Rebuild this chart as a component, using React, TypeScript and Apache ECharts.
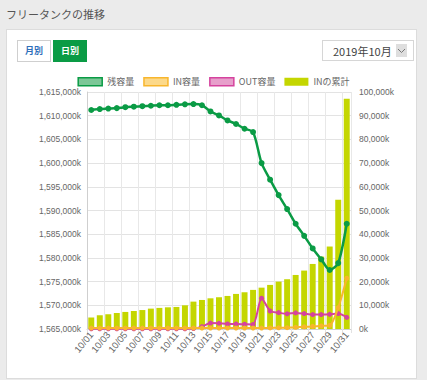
import React, { useEffect, useRef } from 'react';
import * as echarts from 'echarts';

const days = [
  '10/01', '10/02', '10/03', '10/04', '10/05', '10/06', '10/07', '10/08', '10/09', '10/10',
  '10/11', '10/12', '10/13', '10/14', '10/15', '10/16', '10/17', '10/18', '10/19', '10/20',
  '10/21', '10/22', '10/23', '10/24', '10/25', '10/26', '10/27', '10/28', '10/29', '10/30', '10/31',
];

// 残容量 (left axis, k)
const remaining = [
  1611200, 1611400, 1611500, 1611600, 1611800, 1611900, 1612000, 1612100, 1612200, 1612200,
  1612300, 1612400, 1612450, 1612200, 1610900, 1610050, 1609000, 1608250, 1607250, 1606550,
  1600000, 1596500, 1593250, 1590300, 1587200, 1584650, 1582000, 1579700, 1577450, 1578900, 1587200,
];

// IN容量 (right axis, k)
const inVolume = [
  400, 400, 400, 400, 400, 400, 400, 400, 400, 400,
  400, 400, 400, 400, 400, 400, 400, 400, 400, 400,
  400, 450, 500, 550, 700, 900, 1100, 1300, 1500, 9000, 21400,
];

// OUT容量 (right axis, k)
const outVolume = [
  100, 100, 100, 100, 100, 100, 100, 100, 100, 100,
  100, 100, 200, 1000, 2500, 2400, 2100, 2100, 2000, 1900,
  13000, 7600, 6900, 6400, 6800, 6500, 6100, 6100, 6200, 6500, 4900,
];

// INの累計 (right axis, k)
const inCumulative = [
  4900, 5800, 6200, 6750, 7200, 7600, 8000, 8600, 8900, 9150,
  9300, 10000, 11550, 12250, 12950, 13400, 13950, 14800, 15500, 16500,
  17450, 18600, 20000, 21000, 22800, 24650, 27450, 30550, 34800, 54500, 97200,
];

const leftMin = 1565000;
const leftMax = 1615000;
const leftStep = 5000;
const rightMin = 0;
const rightMax = 100000;
const rightStep = 10000;

const FONT = '"Liberation Sans", "Noto Sans CJK JP", sans-serif';
const CJK = '"Noto Sans CJK JP", "Liberation Sans", sans-serif';

const fmt = (v: number) => v.toLocaleString('en-US') + 'k';

export default function App() {
  const ref = useRef<HTMLDivElement>(null);

  useEffect(() => {
    if (!ref.current) return;
    const chart = echarts.init(ref.current, null, { renderer: 'svg' });
    chart.setOption({
      animation: false,
      textStyle: { fontFamily: FONT },
      legend: {
        top: 7,
        left: 'center',
        itemWidth: 24,
        itemHeight: 8,
        itemGap: 9,
        textStyle: { fontSize: 9, color: '#666', fontFamily: CJK },
        data: [
          { name: '残容量', icon: 'rect', itemStyle: { color: '#7cc797', borderColor: '#0a9b45', borderWidth: 1.5 } },
          { name: 'IN容量', icon: 'rect', itemStyle: { color: '#fcd98a', borderColor: '#f8b62d', borderWidth: 1.5 } },
          { name: 'OUT容量', icon: 'rect', itemStyle: { color: '#e79fcb', borderColor: '#d5439e', borderWidth: 1.5 } },
          { name: 'INの累計', icon: 'rect', itemStyle: { color: '#c4d600', borderWidth: 0 } },
        ],
      },
      grid: { left: 87, right: 76, top: 27, bottom: 51 },
      xAxis: {
        type: 'category',
        data: days,
        boundaryGap: true,
        axisLine: { lineStyle: { color: '#cfcfcf' } },
        axisTick: { show: true, interval: 1, length: 4, lineStyle: { color: '#e2e2e2' } },
        axisLabel: { interval: 1, rotate: 50, fontSize: 9.5, color: '#666', margin: 4 },
        splitLine: { show: true, interval: 1, lineStyle: { color: '#e8e8e8' } },
      },
      yAxis: [
        {
          type: 'value',
          min: leftMin,
          max: leftMax,
          interval: leftStep,
          axisLine: { show: true, lineStyle: { color: '#cfcfcf' } },
          axisTick: { show: false },
          axisLabel: { formatter: fmt, fontSize: 8.5, color: '#666', margin: 6 },
          splitLine: { show: true, lineStyle: { color: '#e3e3e3' } },
        },
        {
          type: 'value',
          position: 'right',
          min: rightMin,
          max: rightMax,
          interval: rightStep,
          axisLine: { show: false },
          axisTick: { show: false },
          axisLabel: { formatter: fmt, fontSize: 8.5, color: '#666', margin: 8 },
          splitLine: { show: false },
        },
      ],
      series: [
        {
          name: 'INの累計',
          type: 'bar',
          yAxisIndex: 1,
          data: inCumulative,
          barWidth: '70%',
          itemStyle: { color: '#c4d600' },
          z: 1,
        },
        {
          name: 'IN容量',
          type: 'line',
          yAxisIndex: 1,
          data: inVolume,
          smooth: 0.25,
          symbol: 'circle',
          symbolSize: 5,
          showAllSymbol: true,
          lineStyle: { color: '#f8b62d', width: 2 },
          itemStyle: { color: '#f8b62d' },
          z: 4,
        },
        {
          name: 'OUT容量',
          type: 'line',
          yAxisIndex: 1,
          data: outVolume,
          smooth: 0.25,
          symbol: 'circle',
          symbolSize: 5,
          showAllSymbol: true,
          lineStyle: { color: '#d5439e', width: 2 },
          itemStyle: { color: '#d5439e' },
          z: 3,
        },
        {
          name: '残容量',
          type: 'line',
          yAxisIndex: 0,
          data: remaining,
          smooth: 0.25,
          symbol: 'circle',
          symbolSize: 6,
          showAllSymbol: true,
          lineStyle: { color: '#0a9b45', width: 2.5 },
          itemStyle: { color: '#0a9b45' },
          z: 5,
        },
      ],
    });
    return () => chart.dispose();
  }, []);

  return (
    <div
      style={{
        position: 'fixed',
        left: 0,
        top: 0,
        width: 427,
        height: 380,
        background: '#ebebeb',
        overflow: 'hidden',
        fontFamily: CJK,
      }}
    >
      <div style={{ position: 'absolute', left: 6, top: 5, fontSize: 11, color: '#555', lineHeight: '18px' }}>
        フリータンクの推移
      </div>
      <div
        style={{
          position: 'absolute',
          left: 6,
          top: 29,
          width: 409,
          height: 348,
          background: '#fff',
          border: '1px solid #dcdcdc',
        }}
      />
      <div
        style={{
          position: 'absolute',
          left: 17,
          top: 40,
          width: 32,
          height: 20,
          border: '1px solid #cfcfcf',
          background: '#fff',
          color: '#2f6fba',
          fontWeight: 'bold',
          fontSize: 9,
          lineHeight: '20px',
          textAlign: 'center',
        }}
      >
        月別
      </div>
      <div
        style={{
          position: 'absolute',
          left: 53,
          top: 40,
          width: 34,
          height: 22,
          background: '#0a9b45',
          color: '#fff',
          fontWeight: 'bold',
          fontSize: 9,
          lineHeight: '22px',
          textAlign: 'center',
        }}
      >
        日別
      </div>
      <div
        style={{
          position: 'absolute',
          left: 322,
          top: 40,
          width: 92,
          height: 21,
          border: '1px solid #d6d6d6',
          background: '#fff',
          boxSizing: 'border-box',
        }}
      >
        <div style={{ position: 'absolute', left: 10, top: 0, fontSize: 11, color: '#444', lineHeight: '20px' }}>
          2019年10月
        </div>
        <div style={{ position: 'absolute', left: 73, top: 3, width: 11, height: 13, background: '#dedede' }}>
          <svg width="11" height="13" style={{ display: 'block' }}>
            <polyline points="2,5 5.5,8.5 9,5" fill="none" stroke="#777" strokeWidth="1" />
          </svg>
        </div>
      </div>
      <div ref={ref} style={{ position: 'absolute', left: 0, top: 65, width: 427, height: 315 }} />
    </div>
  );
}
